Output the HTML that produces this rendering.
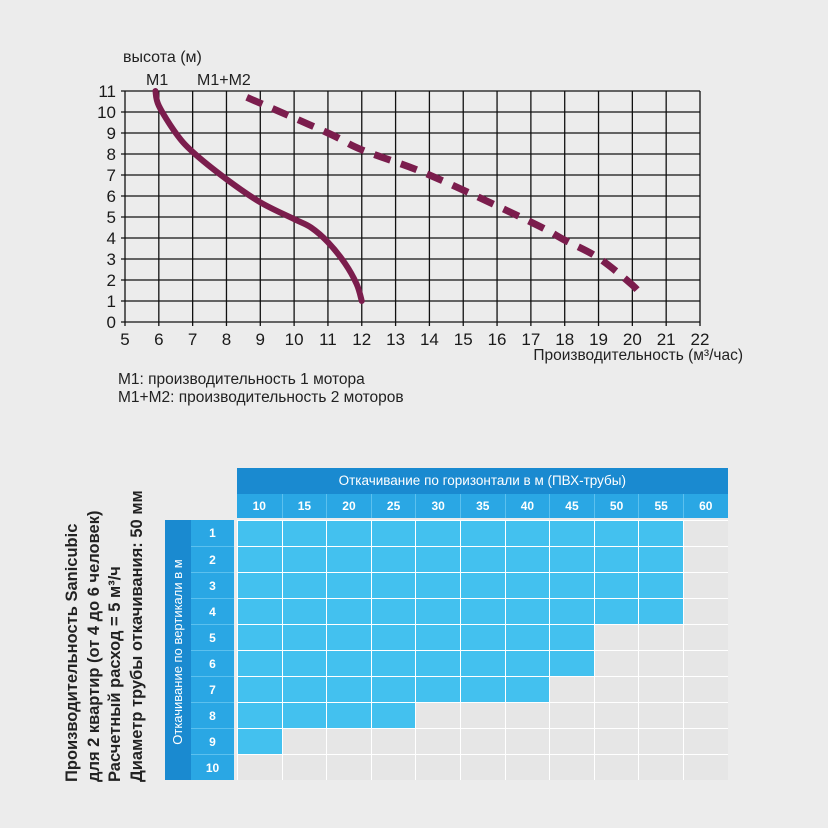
<!DOCTYPE html>
<html><head><meta charset="utf-8"><style>
body{margin:0;background:#ececec;}
#w{position:relative;width:828px;height:828px;background:#ececec;font-family:"Liberation Sans",sans-serif;overflow:hidden}
.vt{position:absolute;transform-origin:0 0;transform:rotate(-90deg);white-space:nowrap}
</style></head><body>
<div id="w">
<svg id="chart" width="828" height="420" style="position:absolute;left:0;top:0"></svg>
<div style="position:absolute;left:118px;top:371px;font-size:15.5px;color:#222;line-height:18px">M1: производительность 1 мотора<br>M1+M2: производительность 2 моторов</div>
<div class="vt" style="left:62px;top:782px;font-size:16.5px;font-weight:bold;line-height:21.5px;color:#222">Производительность Sanicubic<br>для 2 квартир (от 4 до 6 человек)<br>Расчетный расход = 5 м³/ч<br>Диаметр трубы откачивания: 50 мм</div>
<div id="tbl" style="position:absolute;left:0;top:0"></div>
</div>
<script>
const xTicks=[5,6,7,8,9,10,11,12,13,14,15,16,17,18,19,20,21,22];
const yTicks=[0,1,2,3,4,5,6,7,8,9,10,11];
const m1X=[5.9,6.0,6.5,7,8,9,10,10.5,11,11.5,11.85,12];
const m1Y=[11,10.3,9.0,8.1,6.8,5.7,4.9,4.5,3.8,2.8,1.8,1];
const m2X=[8.6,11,12,14,17,18,19,20,20.3];
const m2Y=[10.7,9.0,8.2,7.0,4.76,3.9,3.05,1.76,1.2];
const sx=v=>125+(v-5)*(575/17), sy=v=>322-v*21;
const NS='http://www.w3.org/2000/svg';
const svg=document.getElementById('chart');
function mk(t,a,p){const e=document.createElementNS(NS,t);for(const k in a)e.setAttribute(k,a[k]);(p||svg).appendChild(e);return e;}
xTicks.forEach(v=>{const l=mk('line',{x1:sx(v),x2:sx(v),y1:sy(11),y2:sy(0)+4,stroke:'#111','stroke-width':1.3});

const t=mk('text',{x:sx(v),y:345,'font-size':17,'text-anchor':'middle',fill:'#1a1a1a'});t.textContent=v;
});
yTicks.forEach(v=>{const l=mk('line',{x1:sx(5)-4,x2:sx(22),y1:sy(v),y2:sy(v),stroke:'#111','stroke-width':1.3});

const t=mk('text',{x:116,y:sy(v)+6,'font-size':17,'text-anchor':'end',fill:'#1a1a1a'});t.textContent=v;
});
function smooth(xs,ys){const p=xs.map((x,i)=>[sx(x),sy(ys[i])]);let d='M'+p[0];for(let i=0;i<p.length-1;i++){const p0=p[i-1]||p[i],p1=p[i],p2=p[i+1],p3=p[i+2]||p2;
d+=` C${p1[0]+(p2[0]-p0[0])/6},${p1[1]+(p2[1]-p0[1])/6} ${p2[0]-(p3[0]-p1[0])/6},${p2[1]-(p3[1]-p1[1])/6} ${p2[0]},${p2[1]}`;}return d;}
const c1=mk('path',{d:smooth(m1X,m1Y),fill:'none',stroke:'#7b1d4d','stroke-width':6,'stroke-linecap':'round'});

const c2=mk('path',{d:smooth(m2X,m2Y),fill:'none',stroke:'#7b1d4d','stroke-width':7,'stroke-dasharray':'17 11'});

[['высота (м)',123,62,'y-axis-title'],['M1',146,85,'m1-label'],['M1+M2',197,85,'m1-m2-label']].forEach(a=>{const t=mk('text',{x:a[1],y:a[2],'font-size':16,fill:'#222'});t.textContent=a[0];
});
const xt=mk('text',{x:743,y:360,'font-size':15.5,'text-anchor':'end',fill:'#222'});xt.textContent='Производительность (м³/час)';


const cols=[10,15,20,25,30,35,40,45,50,55,60];
const rows=[1,2,3,4,5,6,7,8,9,10];
const filled=[10,10,10,10,8,8,7,4,1,0];
const tb=document.getElementById('tbl');
function dv(s,txt,p){const e=document.createElement('div');e.style.cssText='position:absolute;box-sizing:border-box;'+s;if(txt!==undefined)e.textContent=txt;(p||tb).appendChild(e);return e;}
const L=237,CW=44.6,T=520,RH=26;
let h=dv(`left:${L}px;top:468px;width:${CW*11}px;height:26px;background:#1a8ad0;color:#fff;font-size:13.5px;text-align:center;line-height:26px`,'Откачивание по горизонтали в м  (ПВХ-трубы)');

cols.forEach((c,i)=>{const e=dv(`left:${L+i*CW}px;top:494px;width:${CW}px;height:24px;background:#2aa7e4;color:#fff;font-size:12px;font-weight:bold;text-align:center;line-height:24px;border-left:${i?1:0}px solid #5cc0ee`,c);
});
let vs=dv(`left:165px;top:${T}px;width:26px;height:${RH*10}px;background:#1a8ad0`);

let vl=dv(`left:170px;top:${T+RH*10-8}px;color:#fff;font-size:13px;transform-origin:0 0;transform:rotate(-90deg);white-space:nowrap;width:240px;text-align:center;line-height:16px`,'Откачивание по вертикали в м',);

rows.forEach((r,j)=>{const e=dv(`left:191px;top:${T+j*RH}px;width:43px;height:${RH}px;background:#2aa7e4;color:#fff;font-size:12px;font-weight:bold;text-align:center;line-height:${RH}px;border-top:${j?1:0}px solid #5cc0ee`,r);

cols.forEach((c,i)=>{const on=i<filled[j];const cell=dv(`left:${L+i*CW}px;top:${T+j*RH}px;width:${CW}px;height:${RH}px;background:${on?'#43c1ef':'#e6e6e6'};border-left:1px solid #fff;border-top:1px solid #fff`);
});});
</script>
</body></html>
